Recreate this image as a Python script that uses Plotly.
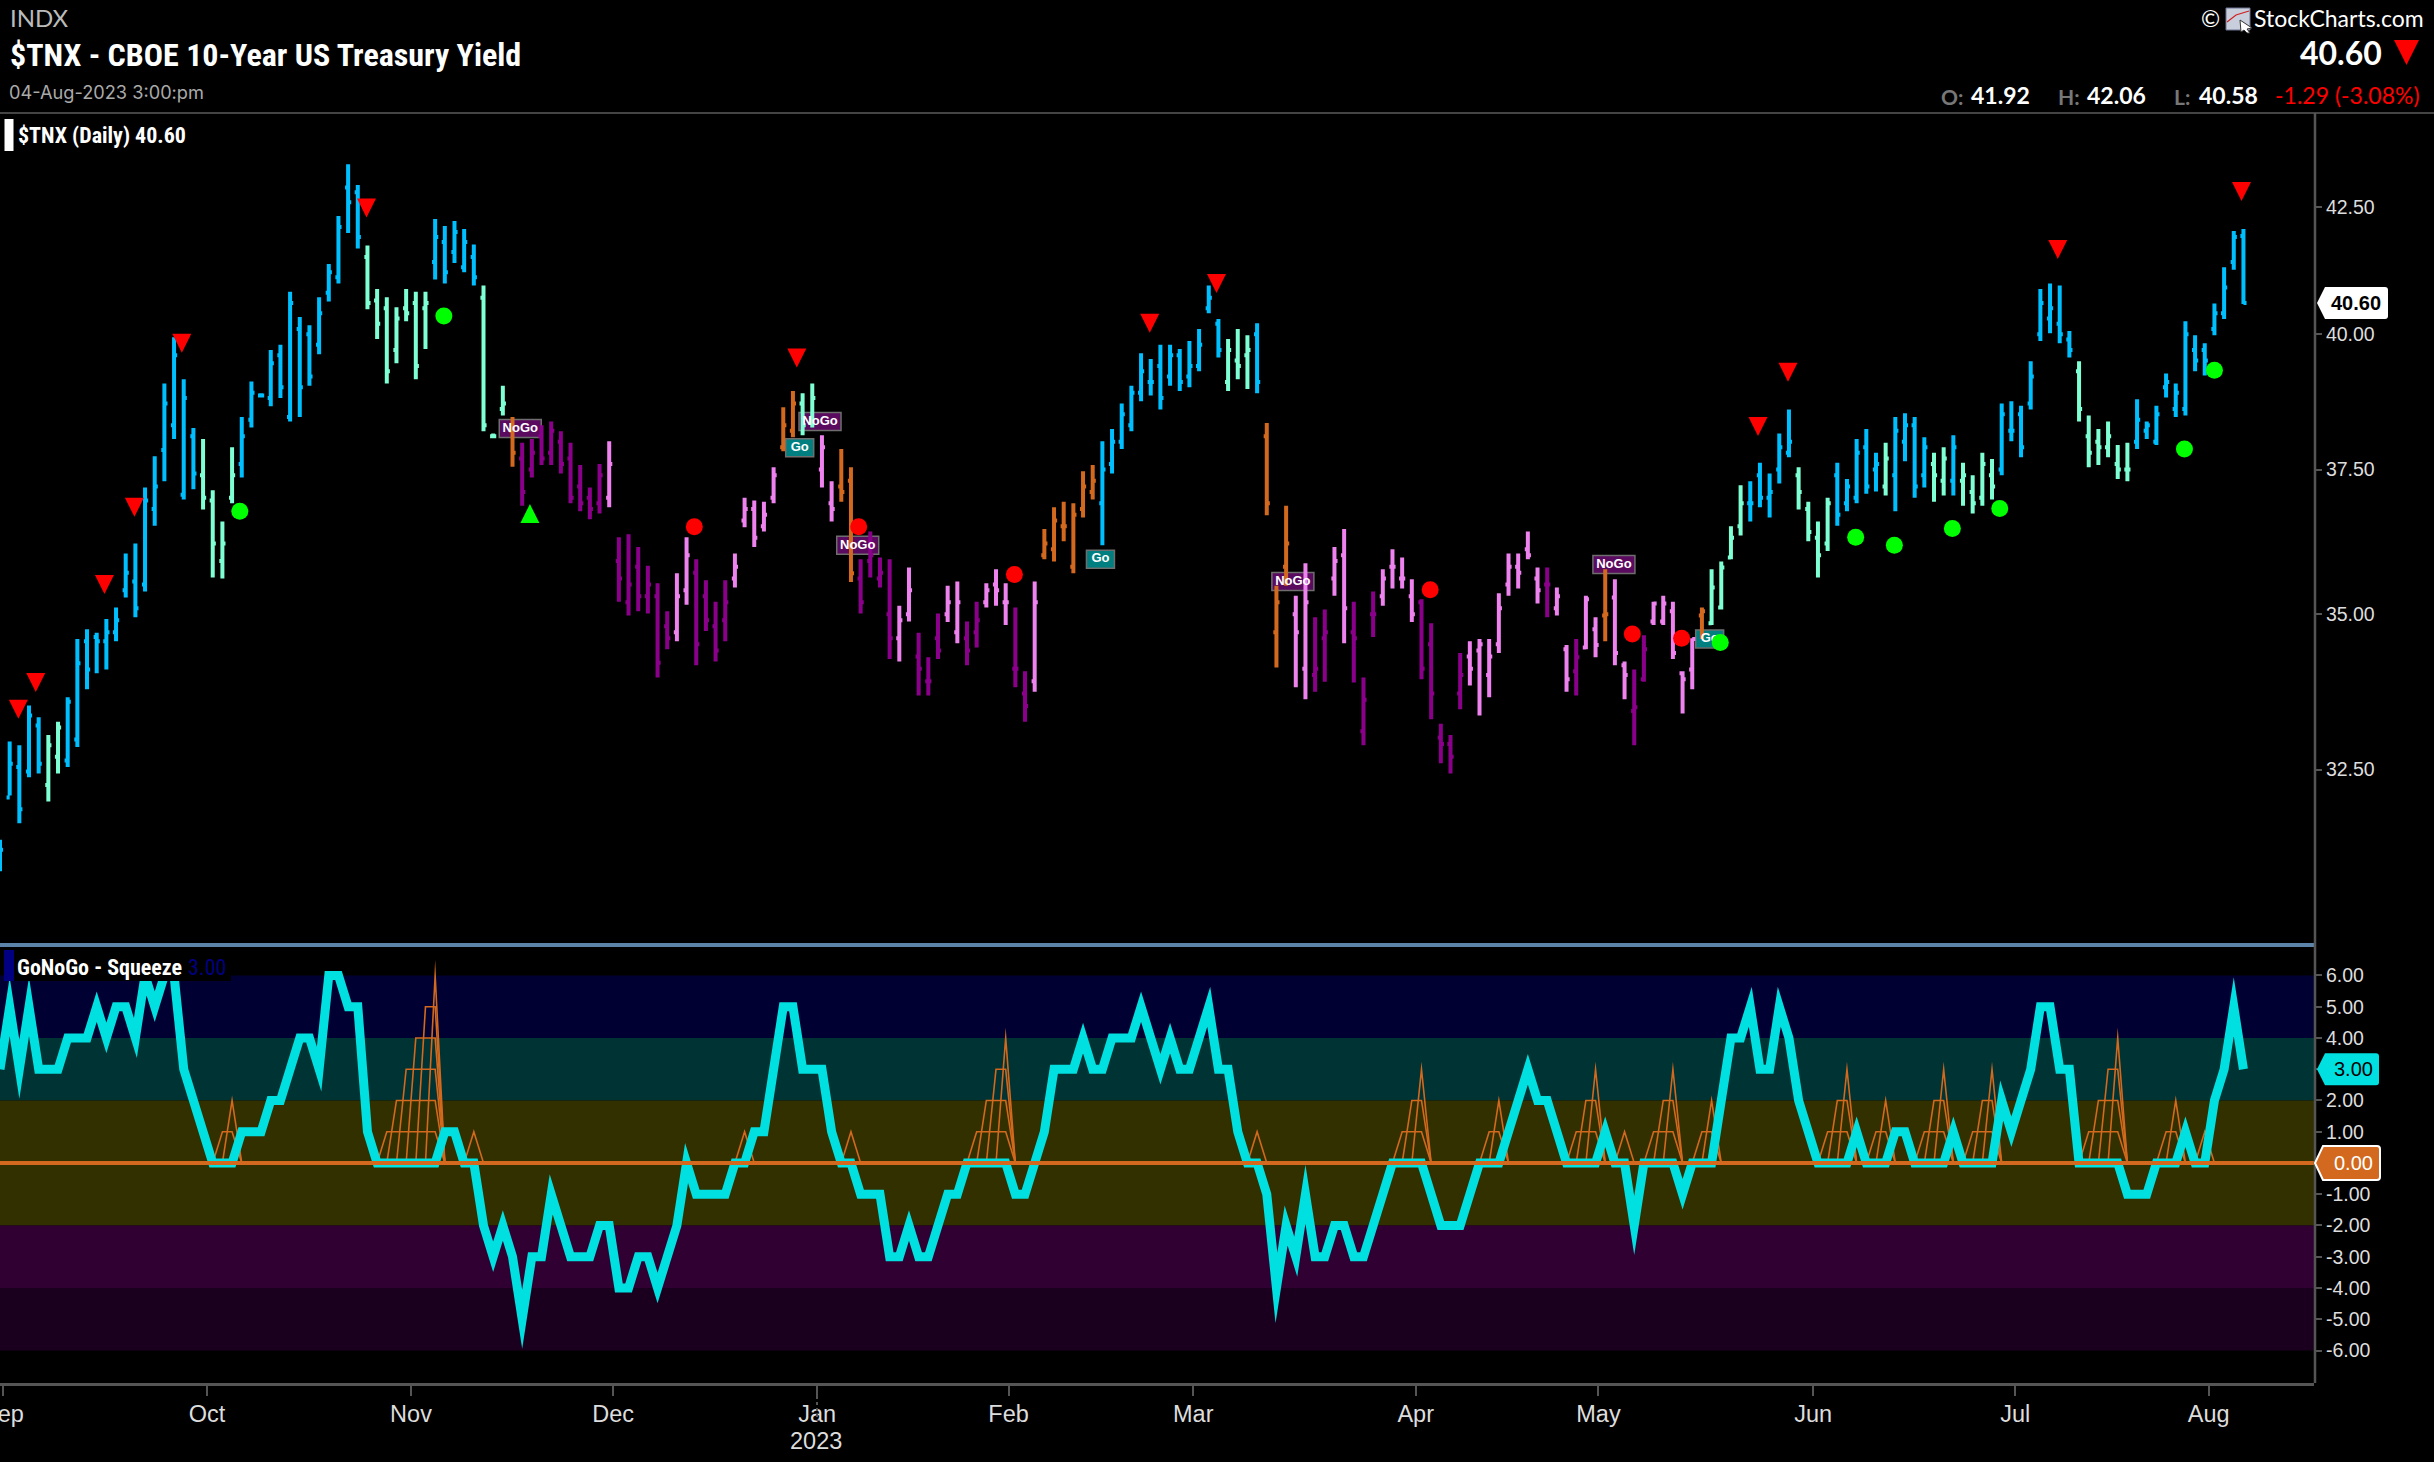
import math
import plotly.graph_objects as go

W, H = 2434, 1462

highs = [31.43,32.94,32.88,33.51,33.32,33.04,33.25,33.64,34.59,34.75,34.69,34.92,35.11,36.03,36.20,37.18,37.74,39.07,39.94,39.15,
38.25,38.05,37.13,36.58,37.90,38.45,39.11,38.89,39.70,39.80,40.82,40.33,40.17,40.71,41.36,42.32,43.38,42.95,41.73,40.87,
40.71,40.52,40.87,40.82,40.82,42.26,42.12,42.22,42.06,41.75,40.94,38.15,39.03,38.45,37.98,38.05,38.30,38.37,38.19,37.98,
37.58,37.18,37.60,38.01,36.31,36.36,36.14,35.82,35.52,35.05,35.69,36.31,35.93,35.57,35.21,35.57,36.03,37.00,36.95,36.93,
37.54,38.63,38.93,38.89,39.07,38.12,37.29,37.87,37.54,35.93,36.41,35.96,35.93,35.14,35.79,34.69,34.29,35.01,35.48,35.55,
34.88,35.21,35.52,35.76,35.52,35.11,34.06,35.55,36.45,36.83,36.93,36.90,37.47,37.58,38.01,38.23,38.70,39.03,39.64,39.53,
39.80,39.80,39.72,39.87,40.10,40.94,40.29,39.91,40.10,39.98,40.21,38.34,35.48,36.86,35.31,35.86,34.95,35.08,36.14,36.45,
35.21,33.96,35.38,35.76,36.10,35.96,35.59,35.25,34.85,33.22,33.04,34.36,34.55,34.59,34.59,35.35,36.03,36.03,36.41,35.79,
35.79,35.45,34.49,34.59,35.31,34.95,35.76,35.59,34.22,34.09,34.65,35.21,35.31,35.21,34.06,34.60,35.11,35.76,35.89,36.50,
37.22,37.29,37.62,37.43,38.15,38.59,37.54,36.93,36.58,37.00,37.62,37.33,38.05,38.23,37.80,37.98,38.45,38.52,38.45,38.08,
37.80,37.90,38.12,37.62,37.40,37.80,37.69,38.70,38.74,38.66,39.49,40.87,40.98,40.94,40.06,39.49,38.48,38.23,38.37,37.94,
37.98,38.78,38.37,38.66,39.26,39.07,40.25,39.98,39.83,40.59,41.30,42.02,42.06]

lows = [30.96,32.10,31.68,32.38,32.44,32.01,32.44,32.54,32.85,33.77,34.03,34.09,34.55,35.28,34.95,35.38,36.51,37.29,38.05,36.97,
37.15,36.79,35.62,35.60,36.90,37.36,38.26,38.81,38.65,38.80,38.37,38.45,39.03,39.62,40.63,40.98,41.98,41.67,40.48,39.91,
39.07,39.45,40.25,39.15,39.72,41.06,40.98,41.38,41.20,40.94,38.19,38.08,38.48,37.55,36.86,37.36,37.58,37.58,37.43,36.90,
36.76,36.62,36.72,36.83,35.21,34.98,35.05,35.01,33.96,34.42,34.55,35.16,34.16,34.72,34.22,34.55,35.45,36.48,36.14,36.41,
36.90,37.83,38.08,38.12,38.26,37.18,36.58,36.93,35.54,35.01,35.62,35.45,34.26,34.22,34.88,33.67,33.67,34.26,34.87,34.52,
34.16,34.45,35.11,35.14,34.82,33.80,33.25,33.73,35.93,35.89,36.24,35.69,36.65,36.97,36.17,37.43,37.87,38.19,38.74,38.85,
38.59,39.03,38.93,39.00,39.30,40.40,39.56,38.93,39.15,38.97,38.89,36.69,34.12,35.48,33.80,33.61,33.73,33.89,35.31,34.52,
33.88,32.88,34.62,35.14,35.43,35.43,34.87,33.93,33.29,32.60,32.44,33.45,33.83,33.35,33.64,34.36,35.31,35.43,35.93,35.18,
34.95,34.98,33.73,33.67,34.42,34.29,34.55,34.16,33.61,32.88,33.89,34.82,34.82,34.26,33.38,33.77,34.59,34.82,35.08,35.93,
36.34,36.58,36.83,36.65,37.25,37.72,36.79,36.24,35.62,36.07,36.51,36.76,36.90,37.07,37.11,37.04,36.76,37.65,37.00,37.18,
36.93,37.04,37.04,36.86,36.72,36.86,36.97,37.40,38.01,37.72,38.59,39.87,40.02,39.83,39.56,38.37,37.54,37.58,37.72,37.33,
37.29,37.87,38.05,37.94,38.81,38.45,38.48,39.30,39.22,39.98,40.29,41.25,40.58]

opens = [31.05,32.07,32.54,32.47,33.19,32.26,32.70,32.64,32.97,34.55,34.62,34.55,34.70,35.40,35.55,35.50,36.80,37.85,38.30,37.05,
38.10,37.40,36.95,35.90,37.00,37.60,38.40,38.85,38.80,39.60,38.45,40.10,40.00,39.80,40.80,41.10,42.90,42.80,41.50,40.65,
40.50,39.70,40.50,40.60,40.50,41.40,41.80,41.60,41.30,41.50,40.70,38.10,38.60,38.20,37.70,37.50,38.10,37.80,38.00,37.70,
37.20,37.00,36.90,37.00,35.90,35.20,35.80,35.30,35.30,34.80,34.70,35.40,35.70,35.30,34.80,34.90,35.60,36.60,36.80,36.50,
37.00,37.90,38.20,38.70,38.40,37.50,36.90,37.20,37.30,35.60,35.90,35.60,35.00,34.60,35.00,34.30,33.90,34.60,35.00,34.70,
34.60,34.70,35.20,35.50,35.20,34.10,33.70,33.90,36.00,36.10,36.50,35.80,36.80,37.10,36.90,37.60,38.00,38.30,38.90,39.10,
39.40,39.20,39.60,39.20,39.40,40.50,40.20,39.10,39.50,39.60,40.00,38.10,34.70,35.80,35.00,34.10,34.00,34.60,35.60,36.00,
34.70,33.10,35.00,35.30,35.80,35.60,35.30,35.20,34.50,33.00,32.90,33.70,34.30,34.40,34.00,34.50,35.50,35.80,36.10,35.60,
35.50,35.10,34.42,34.06,34.45,34.75,34.98,35.28,34.16,33.42,33.93,34.88,34.88,35.05,34.03,34.09,34.98,34.85,35.11,35.96,
36.50,36.90,37.40,37.00,37.50,37.80,37.40,36.80,36.30,36.20,37.40,36.90,37.00,37.90,37.50,37.20,37.40,38.00,38.30,37.40,
37.60,37.30,37.30,37.30,37.10,37.00,37.40,37.50,38.20,38.50,38.70,40.00,40.30,40.20,39.90,39.30,38.10,38.00,37.90,37.60,
37.50,38.00,38.20,38.00,39.00,38.60,38.60,39.70,39.70,40.10,40.40,41.40,41.92]

closes = [31.28,32.59,31.89,33.35,32.59,32.88,33.16,33.57,34.19,34.09,34.55,34.70,34.90,35.70,35.10,36.95,37.20,38.70,39.60,38.80,
37.43,37.00,36.20,36.20,37.40,38.10,38.90,38.85,39.45,39.00,40.60,39.00,39.20,40.40,41.20,42.10,42.60,41.90,40.60,40.20,
39.30,40.30,40.40,39.40,40.60,41.90,41.20,42.00,41.80,41.10,38.30,38.10,38.70,37.80,37.10,37.80,37.70,38.20,37.60,37.00,
36.90,36.80,37.40,37.60,35.60,35.50,35.30,35.50,34.20,34.60,35.30,36.00,34.50,34.90,34.40,35.20,35.80,36.80,36.30,36.70,
37.40,38.30,38.70,38.30,38.80,37.90,36.80,37.10,35.69,35.20,36.00,35.70,34.60,34.90,35.40,34.10,33.90,34.40,35.20,35.20,
34.40,34.90,35.40,35.40,35.20,34.10,33.50,35.20,36.20,36.60,36.50,36.70,37.20,37.30,37.50,38.00,38.50,38.90,39.30,39.10,
38.80,39.60,39.10,39.40,39.80,40.70,39.70,39.70,39.40,39.70,39.10,36.90,35.20,36.20,34.70,35.20,34.10,34.70,35.90,35.10,
34.60,33.60,35.00,35.60,35.80,35.60,35.00,34.10,33.70,32.90,32.70,34.00,34.10,34.50,34.30,35.10,35.80,35.70,36.00,35.40,
35.50,35.30,33.93,34.29,35.25,34.49,35.00,34.36,34.00,33.48,34.42,35.18,35.18,34.36,33.93,34.59,35.05,35.45,35.79,36.30,
36.90,36.90,37.00,37.10,37.90,38.00,37.10,36.40,36.00,36.90,36.70,37.20,37.80,37.20,37.60,37.70,38.20,38.30,37.20,37.90,
37.40,37.70,37.90,37.40,36.90,37.60,37.20,38.50,38.20,37.90,39.20,40.60,40.50,40.00,39.70,38.60,37.80,37.90,38.10,37.50,
37.50,38.40,38.30,38.50,39.10,38.90,40.00,39.50,39.50,40.40,40.90,41.90,40.60]

grades = ("B"*5+"A"*2+"B"*14+"A"*4+"B"*13+"A"*7+"B"*5+"A"*3+"O"+"D"*9+"P"+"D"*6+"P"*2+"D"*4+"P"*5+"O"*2+"A"*2+"P"*2+"O"*2
          +"D"*4+"P"*2+"D"*3+"P"*2+"D"*2+"P"*3+"D"*2+"P"+"O"*6+"B"*13+"A"*3+"B"+"O"*3+"P"*2+"D"*2+"P"*2+"D"*3+"P"*4+"D"*5
          +"P"*8+"D"+"P"*2+"D"+"P"*2+"O"+"P"*2+"D"*2+"P"*5+"O"+"A"*4+"B"*5+"A"*4+"B"*5+"A"+"B"*4+"A"*2+"B"+"A"*4+"B"*8+"A"*6+"B"*12)
grade_colors = {"B": "#00BFFF", "A": "#7FFFD4", "O": "#D2691E", "P": "#EE82EE", "D": "#8B008B"}

oscillator = [3,5,3,5,3,3,3,4,4,4,5,4,5,5,4,6,5,6,6,3,2,1,0,0,0,1,1,1,2,2,3,4,4,3,6,6,5,5,1,0,0,0,0,0,0,0,1,1,0,0,
-2,-3,-2,-3,-5,-3,-3,-1,-2,-3,-3,-3,-2,-2,-4,-4,-3,-3,-4,-3,-2,0,-1,-1,-1,-1,0,0,1,1,3,5,5,3,3,3,1,0,0,-1,-1,-1,-3,-3,-2,-3,-3,-2,-1,-1,
0,0,0,0,0,-1,-1,0,1,3,3,3,4,3,3,4,4,4,5,4,3,4,3,3,4,5,3,3,1,0,0,-1,-4,-2,-3,-1,-3,-3,-2,-2,-3,-3,-2,-1,0,0,0,0,-1,-2,
-2,-2,-1,0,0,0,1,2,3,2,2,1,0,0,0,0,1,0,0,-2,0,0,0,0,-1,0,0,0,2,4,4,5,3,3,5,4,2,1,0,0,0,0,1,0,0,0,1,1,0,0,
0,0,1,0,0,0,0,2,1,2,3,5,5,3,3,0,0,0,0,0,-1,-1,-1,0,0,0,1,0,0,2,3,5,3]

squeeze_by_bar = {23:1,24:2, 40:1,41:2,42:3,43:4,44:5,45:6, 49:1, 77:1, 88:1, 101:1,102:2,103:3,104:4, 130:1,
                  145:1,146:2,147:3, 154:1,155:2, 163:1,164:2,165:3, 168:1, 171:1,172:2,173:3, 176:1,177:2,
                  189:1,190:2,191:3, 194:1,195:2, 199:1,200:2,201:3, 204:1,205:2,206:3,
                  216:1,217:2,218:3,219:4, 224:1,225:2, 228:1}

sell_idx = [1.9,3.7,10.8,13.9,18.8,37.9,82.4,118.9,125.8,181.8,184.9,212.8,231.8]
sell_px = [33.45,33.88,35.50,36.83,39.83,42.48,39.55,40.21,40.98,38.28,39.28,41.65,42.82]
go_dot_idx = [24.8,45.9,177.9,191.9,195.9,201.9,206.8,225.9,229.0]
go_dot_px = [36.76,40.35,34.53,36.31,36.17,36.46,36.81,37.87,39.32]
nogo_dot_idx = [71.8,88.8,104.9,147.9,168.8,173.9]
nogo_dot_px = [36.49,36.49,35.67,35.41,34.67,34.60]
buy_idx = [54.8]
buy_px = [36.72]
label_text = ["NoGo","NoGo","Go","NoGo","Go","NoGo","NoGo","Go"]
label_idx = [53.8,84.8,82.7,88.7,113.8,133.7,166.9,176.8]
label_px = [38.24,38.37,37.89,36.17,35.93,35.55,35.84,34.59]

month_labels = ["Sep","Oct","Nov","Dec","Jan","Feb","Mar","Apr","May","Jun","Jul","Aug"]
month_idx = [0.3,21.4,42.5,63.4,84.5,104.3,123.4,146.4,165.3,187.5,208.4,228.4]
price_ticks = [32.5,35.0,37.5,40.0,42.5]
osc_ticks = [6,5,4,3,2,1,0,-1,-2,-3,-4,-5,-6]
osc_callouts = [3,0]
bands = [(4,6,"#000033"),(2,4,"#003333"),(0,2,"#333000"),(-2,0,"#333000"),(-4,-2,"#300033"),(-6,-4,"#1A001E")]

last_close, last_open, last_high, last_low = closes[-1], opens[-1], highs[-1], lows[-1]
last_osc = oscillator[-1]

PX = lambda x: x / W
PY = lambda y: 1 - y / H
AXIS = "#555555"
TICK_FONT = dict(family="Liberation Sans", size=19.5, color="#DDDDDD")
MONTH_FONT = dict(family="Liberation Sans", size=23.5, color="#DDDDDD")
NARROW = "Liberation Sans Narrow, Roboto Condensed, Roboto"
PX_PER_BAR = 9.67
PX_PER_LOG = 2096

fig = go.Figure()

shapes = []
for lo, hi, col in bands:
    shapes.append(dict(type="rect", xref="x2 domain", x0=0, x1=1, yref="y2", y0=lo, y1=hi,
                       fillcolor=col, line_width=0, layer="below"))
for t, i, p in zip(label_text, label_idx, label_px):
    hw = (21 if t == "NoGo" else 14) / PX_PER_BAR
    shapes.append(dict(type="rect", xref="x", yref="y", x0=i - hw, x1=i + hw,
                       y0=p * math.exp(-9 / PX_PER_LOG), y1=p * math.exp(9 / PX_PER_LOG), layer="below",
                       fillcolor="#5A0A5F" if t == "NoGo" else "#007F80", line=dict(color="#6E6E6E", width=1.5)))

for g, col in grade_colors.items():
    ids = [i for i, c in enumerate(grades) if c == g]
    fig.add_trace(go.Ohlc(x=ids, open=[opens[i] for i in ids], high=[highs[i] for i in ids],
                          low=[lows[i] for i in ids], close=[closes[i] for i in ids],
                          increasing=dict(line=dict(color=col, width=4)),
                          decreasing=dict(line=dict(color=col, width=4)),
                          tickwidth=0.32, hoverinfo="skip", showlegend=False, xaxis="x", yaxis="y"))

fig.add_trace(go.Scatter(x=label_idx, y=label_px, mode="text", text=[f"<b>{t}</b>" for t in label_text], hoverinfo="skip",
                         textfont=dict(family="Liberation Sans", size=13, color="white"),
                         textposition="middle center", showlegend=False, xaxis="x", yaxis="y"))
for xs, ys, col in [(go_dot_idx, go_dot_px, "#00FF00"), (nogo_dot_idx, nogo_dot_px, "#FF0000")]:
    fig.add_trace(go.Scatter(x=xs, y=ys, mode="markers", hoverinfo="skip", showlegend=False,
                             marker=dict(symbol="circle", size=17, color=col, line_width=0), xaxis="x", yaxis="y"))

bars = list(range(len(oscillator)))
squeeze = [squeeze_by_bar.get(i, 0) for i in bars]
for k in range(1, max(squeeze) + 1):
    fig.add_trace(go.Scatter(x=bars, y=[k if s >= k else 0 for s in squeeze], mode="lines", hoverinfo="skip",
                             line=dict(color="#D2691E", width=1.6), showlegend=False, xaxis="x2", yaxis="y2"))
fig.add_trace(go.Scatter(x=bars, y=oscillator, mode="lines", hoverinfo="skip",
                         line=dict(color="#00E0E0", width=9), showlegend=False, xaxis="x2", yaxis="y2"))

for i, p in zip(sell_idx, sell_px):
    shapes.append(dict(type="path", xref="x", yref="y", xsizemode="pixel", ysizemode="pixel", xanchor=i, yanchor=p,
                       path="M-9.5,9.5 L9.5,9.5 L0,-9.5 Z", fillcolor="#FF0000", line_width=0, layer="above"))
for i, p in zip(buy_idx, buy_px):
    shapes.append(dict(type="path", xref="x", yref="y", xsizemode="pixel", ysizemode="pixel", xanchor=i, yanchor=p,
                       path="M-9.5,-9.5 L9.5,-9.5 L0,9.5 Z", fillcolor="#00FF00", line_width=0, layer="above"))

shapes += [
    dict(type="line", xref="x2 domain", x0=0, x1=1, yref="y2", y0=0, y1=0, line=dict(color="#D2691E", width=4), layer="above"),
    dict(type="line", xref="paper", yref="paper", x0=0, x1=PX(2315), y0=PY(945), y1=PY(945), line=dict(color="#5B84A8", width=4)),
    dict(type="line", xref="paper", yref="paper", x0=0, x1=1, y0=PY(113), y1=PY(113), line=dict(color="#444444", width=2)),
    dict(type="line", xref="paper", yref="paper", x0=PX(2315), x1=PX(2315), y0=PY(113), y1=PY(1383), line=dict(color=AXIS, width=2.5)),
    dict(type="rect", xref="paper", yref="paper", x0=PX(4.5), x1=PX(13.5), y0=PY(119), y1=PY(151), fillcolor="white", line_width=0),
    dict(type="rect", xref="paper", yref="paper", x0=PX(14), x1=PX(231), y0=PY(950), y1=PY(981), fillcolor="#000000", line_width=0, layer="above"),
    dict(type="rect", xref="paper", yref="paper", x0=PX(4), x1=PX(14), y0=PY(950), y1=PY(981), fillcolor="#000080", line_width=0, layer="above"),
    dict(type="line", xref="paper", yref="paper", x0=PX(817), x1=PX(817), y0=PY(1396), y1=PY(1421), line=dict(color=AXIS, width=2, dash="dot")),
    dict(type="path", xref="paper", yref="paper", fillcolor="#FF0000", line_width=0,
         path=f"M{PX(2394)},{PY(40)} L{PX(2419)},{PY(40)} L{PX(2406.5)},{PY(65)} Z"),
    dict(type="rect", xref="paper", yref="paper", x0=PX(2226), x1=PX(2250), y0=PY(8), y1=PY(30), fillcolor="#C9CEDD", line=dict(color="#6A7390", width=1)),
    dict(type="path", xref="paper", yref="paper", line=dict(color="#D02020", width=1.2),
         path=f"M{PX(2227)},{PY(22)} L{PX(2236)},{PY(15)} L{PX(2249)},{PY(11)}"),
    dict(type="path", xref="paper", yref="paper", fillcolor="white", line=dict(color="#333333", width=1),
         path=f"M{PX(2240)},{PY(20)} L{PX(2252)},{PY(28)} L{PX(2247)},{PY(29)} L{PX(2250)},{PY(33)} L{PX(2247)},{PY(33)} L{PX(2244)},{PY(30)} L{PX(2241)},{PY(32)} Z"),
]

def callout(yref, value, left, width, half, fill, border=None):
    path = (f"M0,0 L8,{-half} L{width-3},{-half} Q{width},{-half} {width},{-half+3} "
            f"L{width},{half-3} Q{width},{half} {width-3},{half} L8,{half} Z")
    return dict(type="path", xref="paper", yref=yref, xsizemode="pixel", ysizemode="pixel",
                xanchor=PX(left), yanchor=value, path=path, fillcolor=fill,
                line=dict(color=border or fill, width=2 if border else 0), layer="above")

shapes += [callout("y", last_close, 2317, 71, 16, "#FFFFFF"),
           callout("y2", last_osc, 2317, 62, 16, "#00E0E0"),
           callout("y2", 0, 2315, 65, 17, "#D2691E", "#FFFFFF")]

def text(s, x, y, size, color, family, bold=False, anchor="left"):
    return dict(text=f"<b>{s}</b>" if bold else s, xref="paper", yref="paper", x=PX(x), y=PY(y), showarrow=False,
                xanchor=anchor, yanchor="middle", font=dict(family=family, size=size, color=color), borderpad=0, borderwidth=0)

def callout_text(s, x, yref, y, bold, color):
    return dict(text=f"<b>{s}</b>" if bold else s, xref="paper", yref=yref, x=PX(x), y=y, showarrow=False,
                xanchor="center", yanchor="middle", font=dict(family="Liberation Sans", size=20, color=color))

annotations = [
    text("INDX", 10, 17, 24, "#BBBBBB", "Lato"),
    text("$TNX - CBOE 10-Year US Treasury Yield", 10, 55, 32, "white", NARROW, True),
    text("04-Aug-2023 3:00:pm", 9, 92, 18.2, "#AAAAAA", "Inter"),
    text(f"$TNX (Daily) {last_close:.2f}", 18, 136, 22, "white", NARROW, True),
    text("GoNoGo - Squeeze", 17, 967, 22, "white", NARROW, True),
    text(f"{last_osc:.2f}", 188, 967, 22, "#000080", NARROW),
    text("©", 2201, 18, 23, "white", "Lato"),
    text("StockCharts.com", 2254, 18, 23, "white", "Lato"),
    text(f"{last_close:.2f}", 2382, 53, 32, "white", "Lato", True, "right"),
    text("O:", 1941, 96, 21, "#777777", "Lato", True),
    text(f"{last_open:.2f}", 1971, 95, 23, "white", "Lato", True),
    text("H:", 2058, 96, 21, "#777777", "Lato", True),
    text(f"{last_high:.2f}", 2087, 95, 23, "white", "Lato", True),
    text("L:", 2174, 96, 21, "#777777", "Lato", True),
    text(f"{last_low:.2f}", 2199, 95, 23, "white", "Lato", True),
    text("-1.29 (-3.08%)", 2275, 95, 23, "#FF0000", "Lato"),
    text("2023", 816, 1441, 23.5, "#DDDDDD", "Liberation Sans", False, "center"),
    callout_text(f"{last_close:.2f}", 2356, "y", math.log10(last_close), True, "black"),
    callout_text(f"{last_osc:.2f}", 2353, "y2", last_osc, False, "black"),
    callout_text("0.00", 2353, "y2", 0, False, "white"),
]

x_range = [0, 2314 / PX_PER_BAR]
osc_text = ["" if v in osc_callouts else f"{v:.2f}" for v in osc_ticks]
fig.update_layout(
    width=W, height=H, margin=dict(l=0, r=0, t=0, b=0, autoexpand=False), paper_bgcolor="black", plot_bgcolor="black",
    showlegend=False, shapes=shapes, annotations=annotations,
    xaxis=dict(domain=[0, PX(2314)], range=x_range, anchor="y", showticklabels=False, showgrid=False, zeroline=False,
               ticks="", rangeslider=dict(visible=False)),
    xaxis2=dict(domain=[0, PX(2314)], range=x_range, anchor="y2", tickmode="array", tickvals=month_idx, ticktext=month_labels,
                ticks="outside", ticklen=10, tickwidth=2, tickcolor=AXIS, showline=True, linecolor=AXIS, linewidth=2.5,
                showgrid=False, zeroline=False, tickfont=MONTH_FONT, ticklabeloverflow="allow", ticklabelstandoff=-2),
    yaxis=dict(domain=[PY(943), PY(114)], type="log", range=[math.log10(29.92), math.log10(44.43)], side="right", anchor="x",
               tickmode="array", tickvals=price_ticks, ticktext=[f"{v:.2f}" for v in price_ticks], ticks="outside", ticklen=7,
               tickwidth=2, tickcolor=AXIS, showgrid=False, zeroline=False, tickfont=TICK_FONT),
    yaxis2=dict(domain=[PY(1383), PY(947)], range=[-7.04, 6.91], side="right", anchor="x2",
                tickmode="array", tickvals=osc_ticks, ticktext=osc_text, ticks="outside", ticklen=7, tickwidth=2,
                tickcolor=AXIS, showgrid=False, zeroline=False, tickfont=TICK_FONT),
)

post = """
document.body.style.margin='0';document.body.style.background='black';document.body.style.overflow='hidden';
var gd=document.getElementById('{plot_id}');
function fix(){document.querySelectorAll('.js-line').forEach(function(e){e.style.strokeMiterlimit='30';});}
fix();gd.on('plotly_afterplot',fix);setTimeout(fix,300);
"""
fig.write_html("out.html", post_script=post, config=dict(displayModeBar=False))
